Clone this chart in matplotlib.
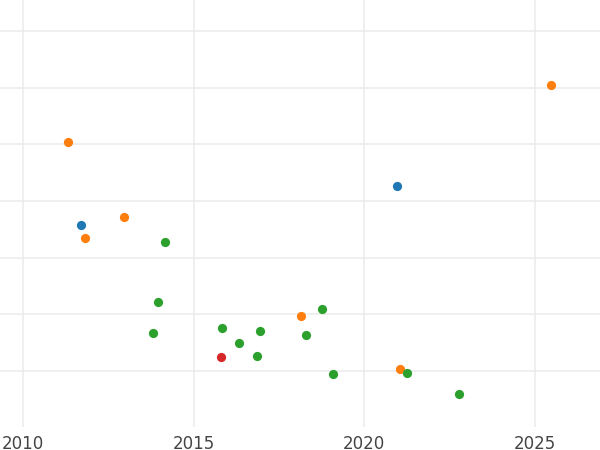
import matplotlib
matplotlib.use("Agg")
import matplotlib.pyplot as plt

# Data (x = year, y = value in grid units)
blue_x = [2011.70, 2020.96]
blue_y = [2.58, 3.27]

orange_x = [2011.32, 2011.82, 2012.96, 2018.14, 2021.05, 2025.47]
orange_y = [4.04, 2.35, 2.71, 0.97, 0.03, 5.04]

green_x = [2014.15, 2013.96, 2013.81, 2015.82, 2016.32, 2016.95, 2016.85,
           2018.30, 2018.77, 2019.09, 2021.25, 2022.78]
green_y = [2.28, 1.21, 0.67, 0.76, 0.49, 0.71, 0.27,
           0.63, 1.09, -0.05, -0.03, -0.41]

red_x = [2015.80]
red_y = [0.25]

x_ticks = [2010, 2015, 2020, 2025]
y_ticks = [0, 1, 2, 3, 4, 5, 6]

fig = plt.figure(figsize=(6, 4.5), dpi=100)
ax = fig.add_axes([0.0, 23 / 450, 1.0, 427 / 450])

series = [
    (blue_x, blue_y, "#1f77b4"),
    (orange_x, orange_y, "#ff7f0e"),
    (green_x, green_y, "#2ca02c"),
    (red_x, red_y, "#d62728"),
]
for xs, ys, c in series:
    ax.scatter(xs, ys, s=44, color=c, linewidths=0, zorder=3)

ax.set_xlim(2009.326, 2026.905)
ax.set_ylim(-0.988, 6.547)
ax.set_xticks(x_ticks)
ax.set_xticklabels([str(t) for t in x_ticks])
ax.set_yticks(y_ticks)
ax.set_yticklabels([])
ax.grid(True, color="#ebebeb", linewidth=1.1, zorder=0)
ax.set_axisbelow(True)
for sp in ax.spines.values():
    sp.set_visible(False)
ax.tick_params(axis="both", length=0)
ax.tick_params(axis="x", labelsize=12, labelcolor="#444444", pad=6)

fig.savefig("out.png", dpi=100)
